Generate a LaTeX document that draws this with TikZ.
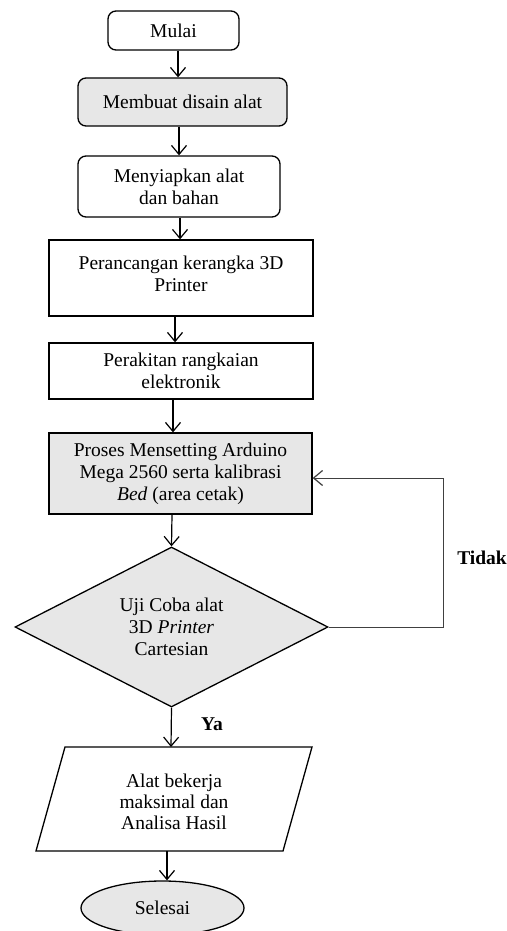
\documentclass[tikz,border=0pt]{standalone}
\usepackage{fontspec}
\setmainfont{Liberation Serif}
\usetikzlibrary{arrows.meta,shapes.geometric}
\definecolor{boxgray}{RGB}{231,231,231}
\tikzset{
  base/.style={draw=black, line width=1.3pt, align=center, inner sep=0pt,
    font=\fontsize{19.5}{22}\selectfont},
  roundbox/.style={base, rectangle, rounded corners=8pt},
  plainbox/.style={base, rectangle},
  grayfill/.style={fill=boxgray},
  arr/.style={line width=1.2pt, -{Straight Barb[length=9pt,width=15pt,line width=1.2pt]}},
  loopline/.style={line width=0.9pt, draw=black!75, -{Straight Barb[length=9pt,width=15pt,line width=1.2pt]}},
  lbl/.style={font=\fontsize{19.5}{22}\selectfont\bfseries, inner sep=0pt}
}
\begin{document}
\begin{tikzpicture}[x=1pt,y=-1pt]
\useasboundingbox (0,0) rectangle (506,931);

\node[roundbox, minimum width=131pt, minimum height=39pt] (mulai) at (173.5,30.5) {Mulai};
\node[roundbox, grayfill, minimum width=209pt, minimum height=48pt] (desain) at (182.5,102) {Membuat disain alat};
\node[roundbox, minimum width=202pt, minimum height=61pt] (siap) at (179,186.5) {Menyiapkan alat\\dan bahan};
\node[plainbox, minimum width=264pt, minimum height=76pt] (rancang) at (181,278)
  {\smash{\raisebox{-3pt}{\begin{tabular}{@{}c@{}}Perancangan kerangka 3D\\Printer\end{tabular}}}};
\node[plainbox, minimum width=264pt, minimum height=56pt] (rakit) at (181,371) {Perakitan rangkaian\\elektronik};
\node[plainbox, grayfill, minimum width=263pt, minimum height=81pt] (proses) at (180.5,473.5) {Proses Mensetting Arduino\\Mega 2560 serta kalibrasi\\\textit{Bed} (area cetak)};
\node[base, diamond, grayfill, aspect=1.96, minimum width=313pt, minimum height=160pt] (uji) at (171.5,627) {Uji Coba alat\\3D \textit{Printer}\\Cartesian};

% parallelogram
\draw[line width=1.3pt] (65,747) -- (312,747) -- (283,851) -- (36,851) -- cycle;
\node[align=center, inner sep=0pt, font=\fontsize{19.5}{21}\selectfont] (hasil) at (174,802) {Alat bekerja\\maksimal dan\\Analisa Hasil};
\coordinate (hasiltop) at (171,747);
\coordinate (hasilbot) at (167,851);

\node[base, ellipse, grayfill, minimum width=163pt, minimum height=54pt] (selesai) at (162.5,908) {Selesai};

% connectors
\draw[arr] (mulai.south -| 178,0) -- (desain.north -| 178,0);
\draw[arr] (desain.south -| 179,0) -- (siap.north -| 179,0);
\draw[arr] (siap.south -| 180,0) -- (rancang.north -| 180,0);
\draw[arr] (rancang.south -| 175,0) -- (rakit.north -| 175,0);
\draw[arr] (rakit.south -| 173,0) -- (proses.north -| 173,0);
\draw[arr] (proses.south -| 172,0) -- (uji.north);
\draw[arr] (uji.south) -- (hasiltop);
\draw[arr] (hasilbot) -- (selesai.north -| 167,0);

\coordinate (loopc) at (443,478);
\draw[loopline] (uji.east) -| (loopc) -- (loopc -| proses.east);

\node[lbl] (tidak) at (482,558) {Tidak};
\node[lbl] (ya) at (212,724) {Ya};
\end{tikzpicture}
\end{document}
